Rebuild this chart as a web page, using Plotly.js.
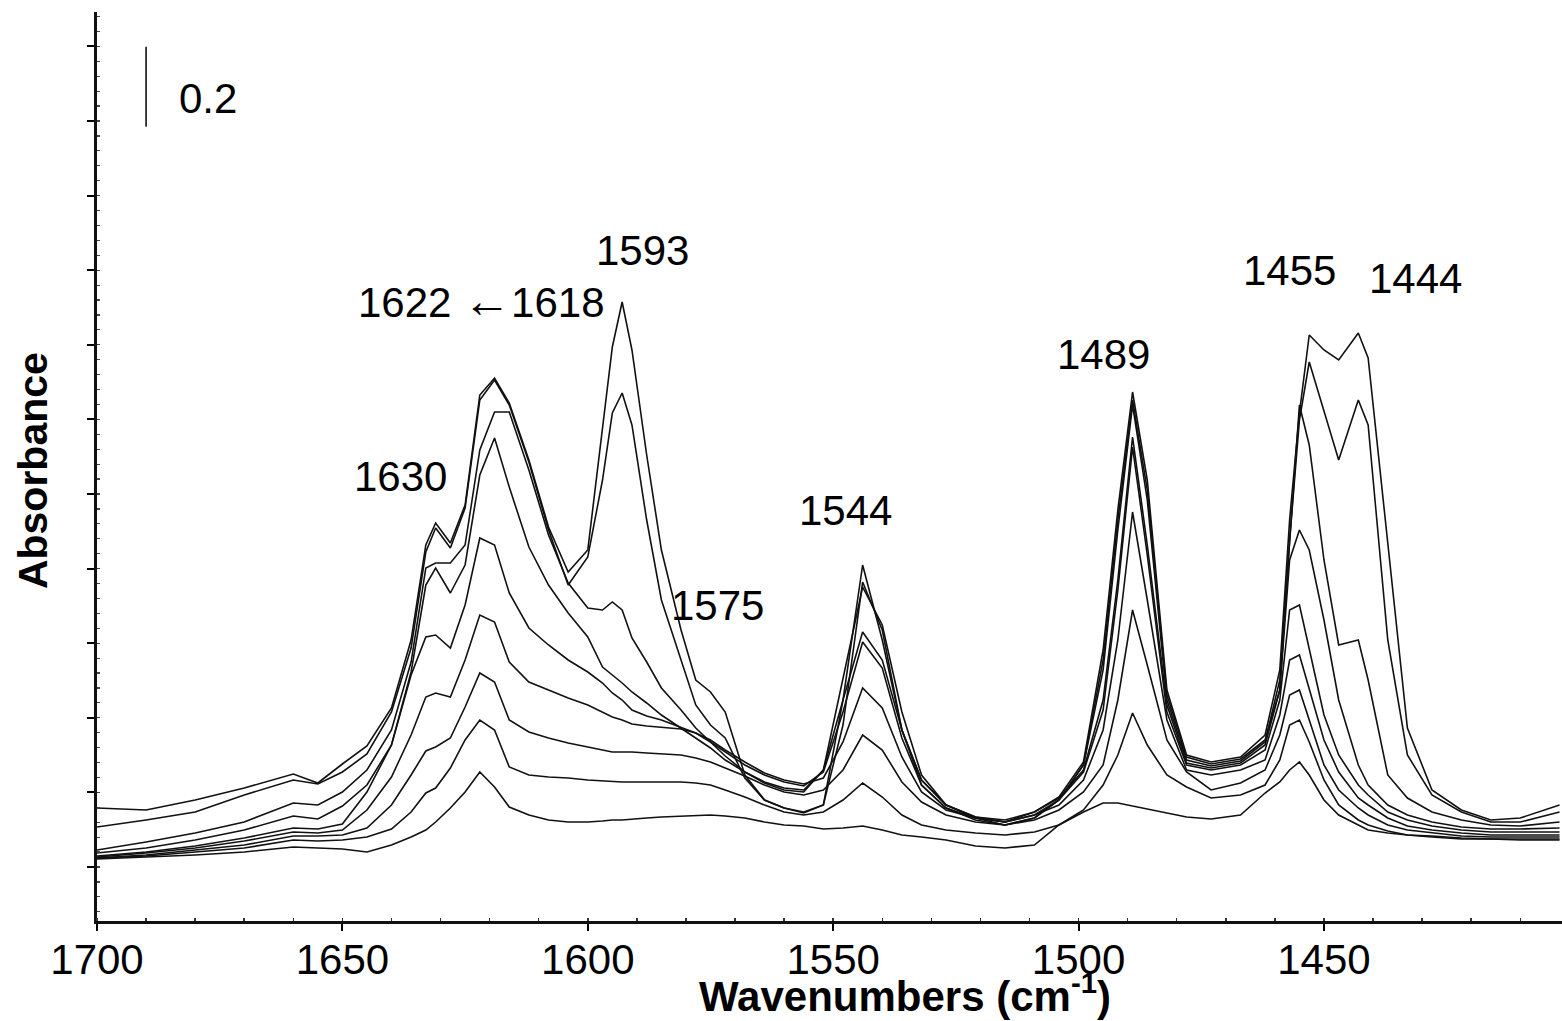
<!DOCTYPE html>
<html>
<head>
<meta charset="utf-8">
<script src="https://cdn.plot.ly/plotly-3.0.1.min.js"></script>
<style>
html,body{margin:0;padding:0;background:#fff;}
#chart{width:1562px;height:1021px;}
</style>
</head>
<body>
<div id="chart"></div>
<script>
// Wavenumbers (cm-1)
const wavenumbers = [1700,1690,1680,1670,1660,1655,1650,1645,1640,1636,1633,1631,1628,1625,1622,1619,1616,1612,1608,1604,1600,1597,1595,1593,1591,1588,1585,1581,1578,1575,1572,1568,1564,1560,1556,1552,1548,1544,1540,1536,1532,1527,1521,1515,1509,1504,1499,1495,1492,1489,1486,1482,1478,1473,1467,1462,1459,1457,1455,1453,1450,1447,1443,1441,1437,1433,1428,1422,1416,1410,1402];

// Absorbance of each spectrum (highest loading first)
const spectrum1 = [0.23,0.225,0.25,0.28,0.315,0.2925,0.34,0.385,0.48,0.65,0.8875,0.9425,0.8925,0.9875,1.2625,1.305,1.2425,1.1,0.9325,0.82,0.875,1.175,1.3825,1.495,1.375,1.1125,0.875,0.675,0.55,0.52,0.47,0.3125,0.25,0.23,0.2175,0.2375,0.5,0.8375,0.65,0.425,0.3,0.2375,0.2075,0.195,0.22,0.2575,0.345,0.625,0.975,1.27,1.05,0.525,0.3625,0.345,0.3575,0.4125,0.575,0.95,1.2175,1.4125,1.375,1.35,1.4175,1.355,0.9,0.43,0.275,0.225,0.2,0.205,0.2375];
const spectrum2 = [0.1825,0.2,0.22,0.2625,0.3,0.29,0.32,0.365,0.47,0.63,0.87,0.93,0.88,0.98,1.25,1.3,1.2375,1.095,0.925,0.7875,0.8575,1.05,1.2175,1.2675,1.1875,0.95,0.75,0.6,0.4875,0.4375,0.405,0.305,0.25,0.23,0.22,0.2375,0.4375,0.795,0.675,0.425,0.2875,0.23,0.2,0.1875,0.205,0.25,0.3375,0.6,0.95,1.25,1.025,0.5125,0.3575,0.34,0.3525,0.4,0.525,0.9,1.2,1.345,1.225,1.1,1.25,1.1875,0.65,0.3625,0.2625,0.22,0.195,0.195,0.22];
const spectrum3 = [0.125,0.145,0.1675,0.195,0.2425,0.2375,0.27,0.325,0.425,0.595,0.83,0.8425,0.8425,0.8875,1.125,1.22,1.22,1.075,0.9125,0.7925,0.73,0.725,0.745,0.725,0.655,0.595,0.53,0.475,0.43,0.395,0.36,0.32,0.2925,0.275,0.27,0.325,0.55,0.7825,0.6875,0.47,0.3125,0.2375,0.205,0.1875,0.205,0.25,0.3375,0.575,0.925,1.2375,1.0,0.5,0.35,0.335,0.3475,0.395,0.55,0.9,1.2375,1.1375,0.85,0.6375,0.65,0.55,0.3125,0.255,0.22,0.2,0.1875,0.185,0.195];
const spectrum4 = [0.1175,0.13,0.15,0.175,0.21,0.2025,0.235,0.2875,0.3875,0.57,0.7875,0.83,0.7675,0.8375,1.0625,1.155,1.0325,0.8825,0.7875,0.7175,0.6575,0.5825,0.5625,0.5425,0.52,0.4925,0.4625,0.43,0.405,0.38,0.35,0.32,0.295,0.28,0.275,0.325,0.5,0.67,0.6,0.425,0.3,0.2375,0.2075,0.2,0.22,0.255,0.325,0.5,0.8,1.1575,0.8875,0.4875,0.3425,0.33,0.3425,0.3875,0.525,0.85,0.925,0.875,0.7,0.5,0.3375,0.2875,0.2375,0.2125,0.195,0.1825,0.1775,0.1775,0.18];
const spectrum5 = [0.11,0.12,0.135,0.155,0.18,0.1775,0.19,0.27,0.3875,0.5625,0.6575,0.6625,0.63,0.7375,0.905,0.8875,0.7675,0.68,0.6375,0.6,0.57,0.5425,0.5175,0.5,0.475,0.46,0.45,0.4325,0.4175,0.395,0.37,0.3375,0.3125,0.295,0.285,0.32,0.47,0.645,0.58,0.405,0.2875,0.23,0.205,0.195,0.2125,0.25,0.32,0.475,0.775,1.1325,0.8625,0.47,0.3375,0.325,0.3375,0.375,0.5,0.725,0.7375,0.625,0.4625,0.3625,0.2875,0.2625,0.22,0.2,0.185,0.175,0.17,0.17,0.17];
const spectrum6 = [0.1075,0.1175,0.13,0.1475,0.17,0.1675,0.175,0.225,0.3075,0.4125,0.5075,0.5175,0.5075,0.6,0.7125,0.695,0.595,0.545,0.525,0.505,0.4875,0.47,0.4575,0.45,0.44,0.435,0.4325,0.4275,0.4175,0.4,0.375,0.345,0.3175,0.3,0.29,0.305,0.395,0.53,0.48,0.3575,0.27,0.225,0.205,0.195,0.2125,0.2375,0.3,0.425,0.65,0.97,0.75,0.45,0.325,0.3125,0.325,0.35,0.4625,0.6,0.6125,0.525,0.4,0.32,0.255,0.2375,0.205,0.185,0.175,0.1675,0.1625,0.1625,0.1625];
const spectrum7 = [0.105,0.1125,0.125,0.1375,0.16,0.16,0.1625,0.18,0.2375,0.3125,0.3725,0.3825,0.405,0.4825,0.5675,0.545,0.45,0.42,0.405,0.3925,0.3825,0.375,0.37,0.37,0.37,0.3675,0.365,0.3625,0.355,0.345,0.33,0.31,0.2875,0.27,0.2625,0.275,0.325,0.4125,0.375,0.295,0.245,0.2125,0.195,0.1875,0.2,0.225,0.27,0.3375,0.5,0.725,0.5875,0.4,0.32,0.275,0.2925,0.325,0.4125,0.5125,0.525,0.45,0.3375,0.275,0.23,0.2125,0.1875,0.175,0.1675,0.16,0.1575,0.1575,0.1575];
const spectrum8 = [0.105,0.11,0.12,0.13,0.15,0.1475,0.15,0.1575,0.1775,0.22,0.2675,0.28,0.33,0.4,0.45,0.425,0.3325,0.3125,0.3075,0.305,0.3,0.2975,0.295,0.295,0.295,0.295,0.295,0.295,0.2925,0.2875,0.275,0.2575,0.2375,0.22,0.2125,0.22,0.25,0.2925,0.2575,0.2125,0.1875,0.175,0.1675,0.1625,0.17,0.1875,0.225,0.2875,0.3625,0.4675,0.3875,0.3125,0.2825,0.255,0.2625,0.2875,0.35,0.4375,0.45,0.395,0.3,0.2375,0.2,0.1875,0.1725,0.1625,0.1575,0.1525,0.1525,0.1525,0.1525];
const spectrum9 = [0.1025,0.1075,0.1125,0.12,0.1325,0.13,0.1275,0.12,0.1375,0.1575,0.175,0.195,0.23,0.27,0.32,0.2825,0.2325,0.2125,0.2,0.195,0.195,0.1975,0.2,0.2,0.2025,0.205,0.2075,0.21,0.2125,0.2125,0.21,0.205,0.195,0.1875,0.185,0.1775,0.18,0.185,0.175,0.1625,0.1575,0.15,0.135,0.13,0.1375,0.1875,0.22,0.2425,0.2425,0.235,0.2275,0.2175,0.2075,0.2025,0.2125,0.2675,0.295,0.325,0.345,0.3125,0.25,0.2125,0.1875,0.175,0.1675,0.1625,0.16,0.155,0.1525,0.15,0.15];

const spectra = [spectrum1,spectrum2,spectrum3,spectrum4,spectrum5,spectrum6,spectrum7,spectrum8,spectrum9];

// Band labels
const bandLabels = ['1593','1622 <span style="font-size:48px">\u2190</span>1618','1630','1575','1544','1489','1455','1444'];
const bandLabelX = [1588.8,1621.6,1638.1,1573.5,1547.4,1495.0,1457.1,1431.3];
const bandLabelY = [1.625,1.5,1.06,0.7375,0.975,1.365,1.575,1.555];

const FONT = 'Liberation Sans, Arial, Helvetica, sans-serif';

const traces = spectra.map(s => ({
  x: wavenumbers, y: s, type: 'scatter', mode: 'lines',
  line: {color: '#111', width: 1.6},
  hoverinfo: 'skip', showlegend: false
}));

const annotations = bandLabels.map((t, i) => ({
  x: bandLabelX[i], y: bandLabelY[i], xref: 'x', yref: 'y',
  text: t, showarrow: false, xanchor: 'center', yanchor: 'middle',
  font: {family: FONT, size: 42, color: '#000'}
}));
annotations.push({
  x: 1677.4, y: 2.005, xref: 'x', yref: 'y', text: '0.2', showarrow: false,
  xanchor: 'center', yanchor: 'middle', font: {family: FONT, size: 42, color: '#000'}
});
annotations.push({
  x: 0.5515, y: -0.079, xref: 'paper', yref: 'paper',
  text: '<b>Wavenumbers (cm<sup>-1</sup>)</b>', showarrow: false,
  xanchor: 'center', yanchor: 'middle', font: {family: FONT, size: 42, color: '#000'}
});
annotations.push({
  x: -0.0437, y: 0.496, xref: 'paper', yref: 'paper',
  text: '<b>Absorbance</b>', showarrow: false, textangle: -90,
  xanchor: 'center', yanchor: 'middle', font: {family: FONT, size: 41, color: '#000'}
});

const layout = {
  width: 1562, height: 1021,
  margin: {l: 97, r: 0, t: 12, b: 100, pad: 0},
  paper_bgcolor: '#fff', plot_bgcolor: '#fff',
  showlegend: false,
  xaxis: {
    range: [1700, 1401.5], tickmode: 'linear', tick0: 1700, dtick: 50,
    ticks: 'outside', ticklen: 7, tickwidth: 2, tickcolor: '#000',
    ticklabelstandoff: -7,
    showline: true, linewidth: 3, linecolor: '#111', mirror: false,
    showgrid: false, zeroline: false,
    tickfont: {family: FONT, size: 42, color: '#000'},
    minor: {tick0: 1700, dtick: 10, ticks: 'inside', ticklen: 3, tickwidth: 1.5, tickcolor: '#333', showgrid: false}
  },
  yaxis: {
    range: [-0.0525, 2.22], tickmode: 'linear', tick0: 0.0825, dtick: 0.1865,
    ticks: 'outside', ticklen: 7, tickwidth: 2, tickcolor: '#000',
    showticklabels: false,
    showline: true, linewidth: 3, linecolor: '#111',
    showgrid: false, zeroline: false,
    minor: {tick0: 0.0825, dtick: 0.0373, ticks: 'inside', ticklen: 3, tickwidth: 1.2, tickcolor: '#444', showgrid: false}
  },
  shapes: [{
    type: 'line', xref: 'x', yref: 'y', x0: 1690, x1: 1690, y0: 1.933, y1: 2.133,
    line: {color: '#000', width: 1.5}
  }],
  annotations: annotations
};

Plotly.newPlot('chart', traces, layout, {displayModeBar: false, staticPlot: true});
</script>
</body>
</html>
